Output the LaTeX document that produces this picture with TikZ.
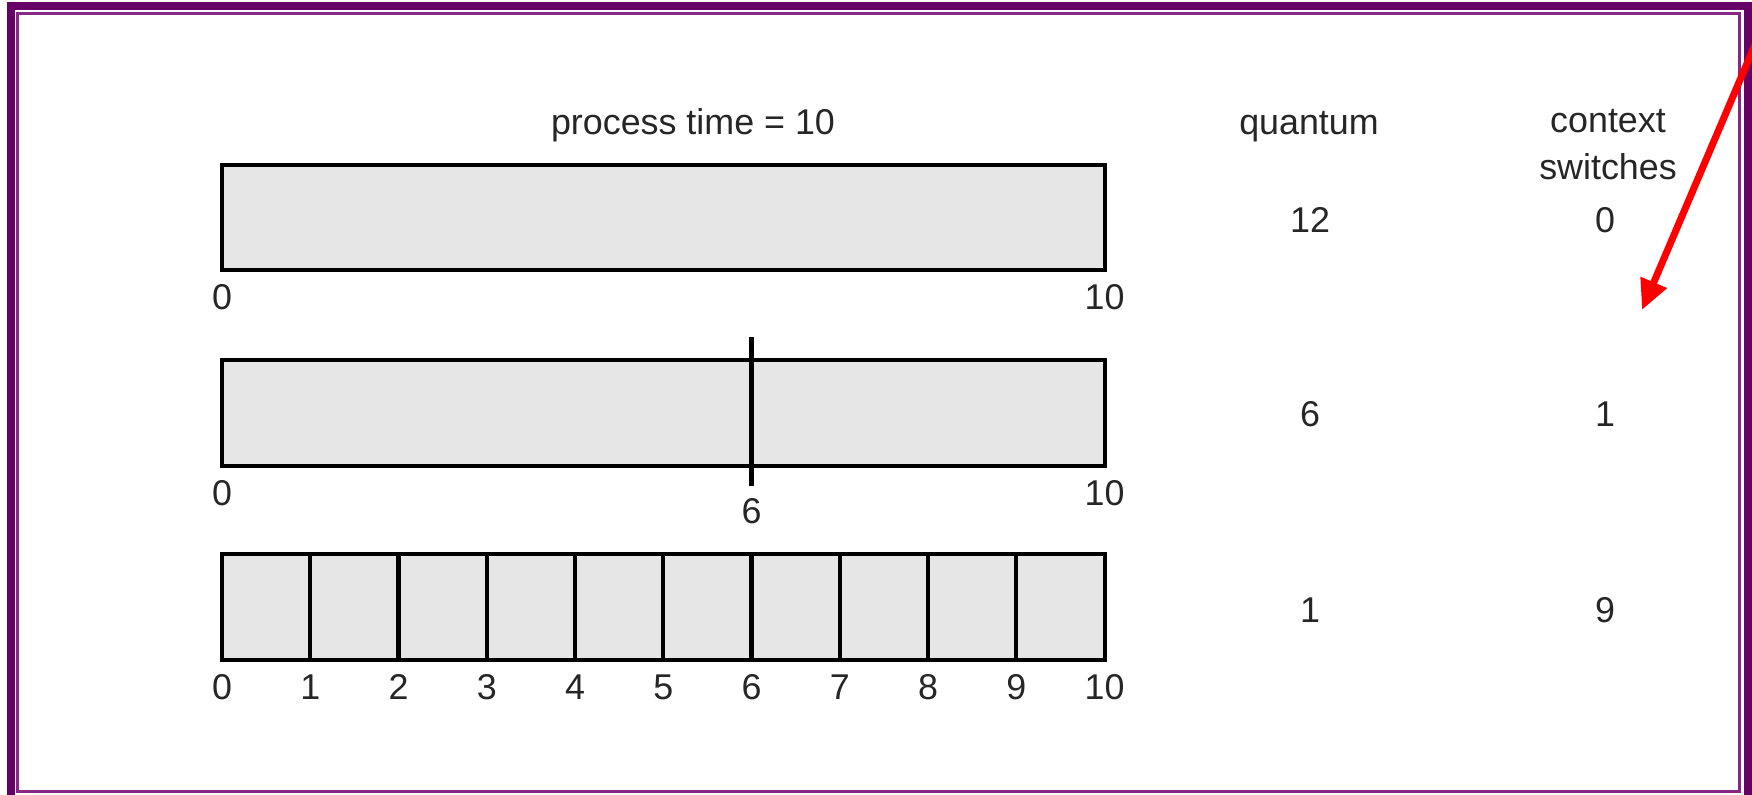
\documentclass[tikz,border=0pt]{standalone}
\usepackage{fontspec}
\setmainfont{Liberation Sans}
\usetikzlibrary{arrows.meta}
\definecolor{framedark}{RGB}{102,0,102}
\definecolor{framelight}{RGB}{135,40,135}
\definecolor{slicefill}{RGB}{230,230,230}
\tikzstyle{slice} = [draw, line width=1.15pt, fill=slicefill]
\tikzstyle{cut} = [line width=1.15pt]
\tikzstyle{lbl} = [font=\fontsize{10.2pt}{12pt}\selectfont, text=black!85, inner sep=0pt]

\begin{document}
\begin{tikzpicture}
\useasboundingbox (0,0) rectangle (17.52,7.95);
% double frame
\draw[line width=0.08cm, framedark] (0.11,-0.2) rectangle (17.475,7.885);
\draw[line width=0.03cm, framelight] (0.175,0.035) rectangle (17.39,7.815);

% column heads
\node[lbl, anchor=base] (title) at (6.93,6.60) {process time = 10};
\node[lbl, anchor=base] (qhead) at (13.09,6.60) {quantum};
\node[lbl, anchor=base] (chead) at (16.08,6.62) {context};
\node[lbl, anchor=base] (chead2) at (16.08,6.15) {switches};

% quantum = 12
\begin{scope}[shift={(2.22,5.25)}, x=0.8825cm]
  \draw[slice] (0,0) rectangle (10,1.05);
  \node[lbl] (ra0) at (0,-0.27) {0};
  \node[lbl] (ra10) at (10,-0.27) {10};
\end{scope}
\node[lbl] (qa) at (13.10,5.75) {12};
\node[lbl] (ca) at (16.05,5.75) {0};

% quantum = 6
\begin{scope}[shift={(2.22,3.29)}, x=0.8825cm]
  \draw[slice] (0,0) rectangle (10,1.06);
  \draw[cut] (6,-0.20) -- (6,1.29);
  \node[lbl] (rb0) at (0,-0.27) {0};
  \node[lbl] (rb6) at (6,-0.45) {6};
  \node[lbl] (rb10) at (10,-0.27) {10};
\end{scope}
\node[lbl] (qb) at (13.10,3.81) {6};
\node[lbl] (cb) at (16.05,3.81) {1};

% quantum = 1
\begin{scope}[shift={(2.22,1.35)}, x=0.8825cm]
  \draw[slice] (0,0) rectangle (10,1.06);
  \foreach \i in {1,...,9}
    \draw[cut] (\i,0) -- (\i,1.06);
  \foreach \i in {0,...,10}
    \node[lbl] (rc\i) at (\i,-0.27) {\i};
\end{scope}
\node[lbl] (qc) at (13.10,1.85) {1};
\node[lbl] (cc) at (16.05,1.85) {9};

% red pointer
\coordinate (from) at (17.60,7.62);
\coordinate (to) at (16.42,4.85);
\draw[red, line width=0.07cm, -{Triangle[length=0.3cm,width=0.27cm]}] (from) -- (to);
\end{tikzpicture}
\end{document}
